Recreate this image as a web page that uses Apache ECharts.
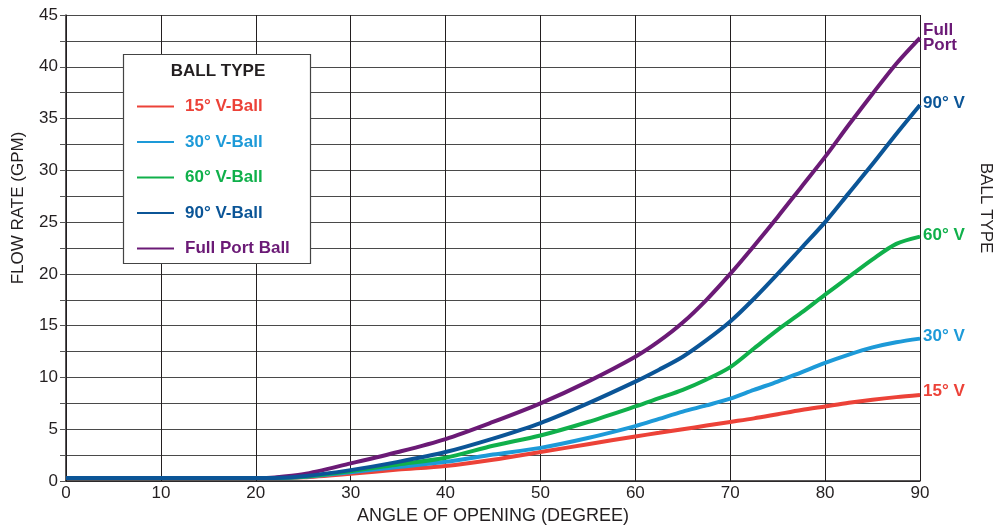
<!DOCTYPE html>
<html>
<head>
<meta charset="utf-8">
<script src="https://cdn.jsdelivr.net/npm/echarts@6/dist/echarts.min.js"></script>
<style>html,body{margin:0;padding:0;background:#fff;overflow:hidden;}#c{width:1002px;height:527px;}</style>
</head>
<body>
<div id="c"></div>
<script>
const angles = [0,5,10,15,20,22,25,30,35,40,45,50,55,60,62.5,65,67.5,70,72.5,75,77.5,80,82.5,85,87.5,90];
const v15 = [0.3,0.3,0.3,0.3,0.3,0.3,0.35,0.7,1.1,1.45,2.05,2.8,3.55,4.3,4.65,5.0,5.35,5.7,6.05,6.45,6.85,7.2,7.55,7.85,8.1,8.3];
const v30 = [0.3,0.3,0.3,0.3,0.3,0.3,0.38,0.85,1.35,1.85,2.55,3.2,4.15,5.3,6.0,6.7,7.3,7.95,8.8,9.6,10.5,11.4,12.2,12.9,13.4,13.75];
const v60 = [0.3,0.3,0.3,0.3,0.3,0.3,0.4,0.95,1.6,2.25,3.4,4.4,5.7,7.2,8.0,8.8,9.8,11.0,12.8,14.6,16.25,18.0,19.7,21.4,22.9,23.6];
const v90 = [0.3,0.3,0.3,0.3,0.3,0.3,0.45,1.05,1.85,2.8,4.1,5.6,7.5,9.6,10.75,12.0,13.6,15.4,17.6,20.0,22.5,25.0,27.8,30.6,33.5,36.3];
const fullPort = [0.3,0.3,0.3,0.3,0.3,0.35,0.65,1.7,2.8,4.05,5.7,7.5,9.6,12.0,13.5,15.3,17.5,20.0,22.7,25.5,28.4,31.3,34.4,37.4,40.3,42.8];

const names = ['15° V-Ball','30° V-Ball','60° V-Ball','90° V-Ball','Full Port Ball'];
const endNames = ['15° V','30° V','60° V','90° V','Full\nPort'];
const colors = ['#ec4238','#1d9ad8','#10b04b','#0b5597','#6b1a76'];
const values = [v15, v30, v60, v90, fullPort];
const drawOrder = [0,1,2,4,3];
const labelOffsets = [[0,-4],[0,-2],[0,-1],[0,-2],[0,0]];

const FONT = 'Liberation Sans, Arial, Helvetica, sans-serif';

const series = drawOrder.map(i => ({
  name: names[i],
  type: 'line',
  z: 3,
  data: angles.map((a, k) => [a, values[i][k]]),
  smooth: 0.3,
  symbol: 'none',
  lineStyle: { color: colors[i], width: 4 },
  itemStyle: { color: colors[i] },
  endLabel: {
    show: true,
    formatter: endNames[i],
    color: colors[i],
    fontFamily: FONT,
    fontSize: 17,
    fontWeight: 'bold',
    lineHeight: 15,
    distance: 3,
    offset: labelOffsets[i]
  }
}));

const chart = echarts.init(document.getElementById('c'));
chart.setOption({
  animation: false,
  backgroundColor: '#fff',
  grid: { left: 66, right: 82, top: 15, bottom: 46, containLabel: false, outerBoundsMode: 'none' },
  xAxis: {
    type: 'value', min: 0, max: 90, interval: 10,
    name: 'ANGLE OF OPENING (DEGREE)', nameLocation: 'middle', nameGap: 24,
    nameTextStyle: { fontFamily: FONT, fontSize: 18, color: '#231f20' },
    axisLine: { show: true, lineStyle: { color: '#231f20', width: 1.5 } },
    axisTick: { show: false },
    axisLabel: { fontFamily: FONT, fontSize: 17, color: '#231f20', margin: 4 },
    splitLine: { show: true, lineStyle: { color: '#231f20', width: 1 } }
  },
  yAxis: {
    type: 'value', min: 0, max: 45, interval: 5,
    axisLine: { show: true, lineStyle: { color: '#231f20', width: 1.5 } },
    axisTick: { show: true, length: 6, lineStyle: { color: '#555', width: 1 } },
    minorTick: { show: true, splitNumber: 2, length: 6, lineStyle: { color: '#555', width: 1 } },
    axisLabel: { fontFamily: FONT, fontSize: 17, color: '#231f20', margin: 8 },
    splitLine: { show: true, lineStyle: { color: '#4a4a4a', width: 1 } },
    minorSplitLine: { show: true, lineStyle: { color: '#4a4a4a', width: 1 } }
  },
  legend: {
    orient: 'vertical',
    left: 132, top: 93,
    z: 10,
    itemWidth: 37, itemHeight: 2, itemGap: 18.5,
    icon: 'rect',
    data: names.map((n, i) => ({ name: n, textStyle: { color: colors[i] } })),
    textStyle: { fontFamily: FONT, fontSize: 17, fontWeight: 'bold', padding: [0,0,0,6] },
    selectedMode: false
  },
  graphic: [
    { type: 'rect', z: 1, shape: { x: 123.5, y: 54.5, width: 187, height: 209 },
      style: { fill: '#fff', stroke: '#444', lineWidth: 1.2 } },
    { type: 'text', z: 11, x: 218, y: 71,
      style: { text: 'BALL TYPE', textAlign: 'center', textVerticalAlign: 'middle',
        fontFamily: FONT, fontSize: 17, fontWeight: 'bold', fill: '#231f20' } },
    { type: 'text', z: 11, x: 18, y: 208, rotation: Math.PI / 2,
      style: { text: 'FLOW RATE (GPM)', textAlign: 'center', textVerticalAlign: 'middle',
        fontFamily: FONT, fontSize: 17, fill: '#231f20' } },
    { type: 'text', z: 11, x: 986, y: 208, rotation: -Math.PI / 2,
      style: { text: 'BALL TYPE', textAlign: 'center', textVerticalAlign: 'middle',
        fontFamily: FONT, fontSize: 17, fill: '#231f20' } }
  ],
  series: series
});
</script>
</body>
</html>
